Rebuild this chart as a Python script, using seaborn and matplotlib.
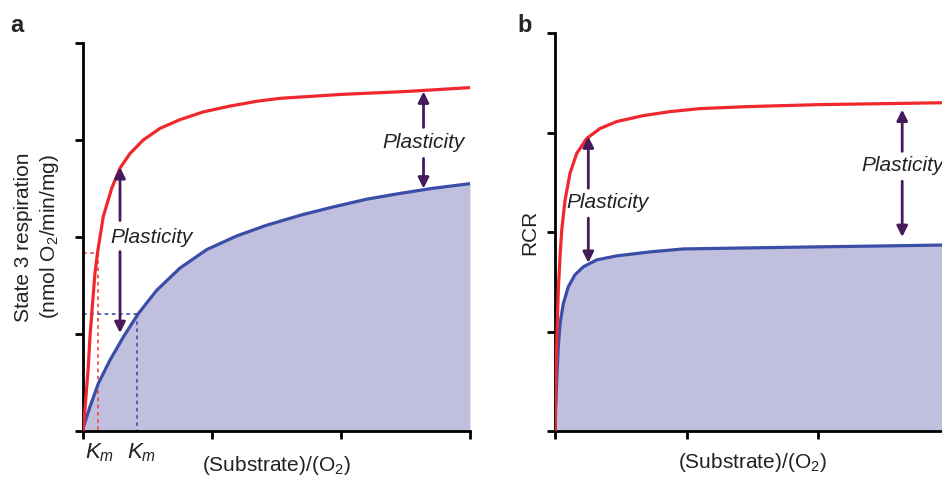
import numpy as np
import pandas as pd
import seaborn as sns
import matplotlib.pyplot as plt

# ---- values (x: tick units 0..3, y: tick units 0..4) ----
# panel a: state 3 respiration
a_red_x = [0, 0.003, 0.023, 0.041, 0.054, 0.072, 0.093, 0.114, 0.157, 0.222, 0.287, 0.364,
           0.467, 0.597, 0.752, 0.933, 1.14, 1.35, 1.53, 2.0, 2.5, 3.0]
a_red_y = [0, 0.04, 0.35, 0.66, 0.97, 1.28, 1.63, 1.85, 2.21, 2.5, 2.71, 2.86,
           3.0, 3.12, 3.21, 3.29, 3.35, 3.40, 3.43, 3.47, 3.50, 3.54]
a_blue_x = [0, 0.003, 0.054, 0.119, 0.209, 0.313, 0.429, 0.571, 0.752, 0.959, 1.19, 1.42,
            1.7, 1.94, 2.2, 2.46, 2.7, 3.0]
a_blue_y = [0, 0.04, 0.25, 0.49, 0.73, 0.97, 1.21, 1.45, 1.68, 1.87, 2.01, 2.12,
            2.23, 2.31, 2.39, 2.45, 2.50, 2.55]
a_km_red = (0.117, 1.84)
a_km_blue = (0.42, 1.21)
# arrows: x, top, upper-seg end, lower-seg start, bottom, text y, text x
a_arrows = [(0.287, 2.72, 2.17, 1.85, 1.01, 2.0, 0.53),
            (2.64, 3.50, 3.13, 2.81, 2.50, 2.97, 2.64)]

# panel b: RCR
b_red_x = [0, 0.006, 0.015, 0.025, 0.038, 0.051, 0.076, 0.114, 0.165, 0.241, 0.342, 0.469,
           0.672, 0.875, 1.10, 1.46, 2.0, 2.5, 3.0]
b_red_y = [0, 0.5, 1.0, 1.42, 1.75, 2.02, 2.32, 2.59, 2.79, 2.94, 3.04, 3.11,
           3.17, 3.21, 3.24, 3.26, 3.28, 3.29, 3.30]
b_blue_x = [0, 0.004, 0.013, 0.025, 0.038, 0.063, 0.101, 0.152, 0.215, 0.317, 0.469, 0.722,
            0.976, 1.46, 1.96, 2.5, 3.0]
b_blue_y = [0, 0.2, 0.51, 0.85, 1.08, 1.28, 1.45, 1.57, 1.65, 1.72, 1.76, 1.80,
            1.83, 1.84, 1.85, 1.86, 1.87]
b_arrows = [(0.253, 2.96, 2.44, 2.14, 1.69, 2.30, 0.40),
            (2.64, 3.23, 2.81, 2.51, 1.95, 2.67, 2.64)]

RED = "#f0282d"
BLUE = "#3a4ea8"
FILL = "#c1bfde"
ARROW = "#45195a"
TXT = "#222222"

sns.set_style("ticks")
plt.rcParams["font.family"] = ["Liberation Sans", "DejaVu Sans"]
plt.rcParams["mathtext.fontset"] = "custom"
plt.rcParams["mathtext.rm"] = "Liberation Sans"
plt.rcParams["mathtext.it"] = "Liberation Sans:italic"

fig = plt.figure(figsize=(9.42, 4.79), dpi=100)
ax_a = fig.add_axes([0.0881, 0.1002, 0.4108, 0.810])
ax_b = fig.add_axes([0.5892, 0.1002, 0.4188, 0.8309])


def draw_panel(ax, rx, ry, bx, by, arrows):
    df_r = pd.DataFrame({"x": rx, "y": ry})
    df_b = pd.DataFrame({"x": bx, "y": by})
    ax.fill_between(bx, 0, by, color=FILL, lw=0, zorder=1)
    sns.lineplot(data=df_b, x="x", y="y", ax=ax, color=BLUE, lw=2.3, zorder=3, sort=False)
    sns.lineplot(data=df_r, x="x", y="y", ax=ax, color=RED, lw=2.3, zorder=4, sort=False)
    for x, top, up_end, lo_start, bot, ty, tx in arrows:
        kw = dict(arrowstyle="-|>", color=ARROW, lw=2, mutation_scale=16,
                  shrinkA=0, shrinkB=0)
        ax.annotate("", xy=(x, top), xytext=(x, up_end), arrowprops=kw, zorder=5)
        ax.annotate("", xy=(x, bot), xytext=(x, lo_start), arrowprops=kw, zorder=5)
        ax.text(tx, ty, "Plasticity", style="italic", fontsize=15,
                ha="center", va="center", color=TXT, zorder=6)
    ax.set_xlim(0, 3)
    ax.set_ylim(0, 4)
    ax.set_xticks([0, 1, 2, 3])
    ax.set_yticks([0, 1, 2, 3, 4])
    ax.set_xticklabels([])
    ax.set_yticklabels([])
    ax.tick_params(length=6, width=2, direction="out", color="black")
    sns.despine(ax=ax)
    for s in ("left", "bottom"):
        ax.spines[s].set_linewidth(2)
        ax.spines[s].set_color("black")
    ax.set_xlabel("")
    ax.set_ylabel("")


draw_panel(ax_a, a_red_x, a_red_y, a_blue_x, a_blue_y, a_arrows)
draw_panel(ax_b, b_red_x, b_red_y, b_blue_x, b_blue_y, b_arrows)

# Km guide lines in panel a
for (kx, ky), c in ((a_km_red, "#f05050"), (a_km_blue, "#4a5ab0")):
    ax_a.plot([0, kx], [ky, ky], ls=(0, (2, 2)), color=c, lw=1.3, zorder=2)
    ax_a.plot([kx, kx], [ky, 0], ls=(0, (2, 2)), color=c, lw=1.3, zorder=2)

ax_a.text(0.13, -0.22, "$K_m$", fontsize=16, ha="center", va="center", color=TXT)
ax_a.text(0.45, -0.22, "$K_m$", fontsize=16, ha="center", va="center", color=TXT)

ax_a.set_xlabel("(Substrate)/(O$_\\mathregular{2}$)", fontsize=15, labelpad=7, color=TXT)
ax_a.set_ylabel("State 3 respiration\n(nmol O$_\\mathregular{2}$/min/mg)", fontsize=15,
                labelpad=6, color=TXT, linespacing=1.3)
ax_b.set_xlabel("(Substrate)/(O$_\\mathregular{2}$)", fontsize=15, labelpad=5, color=TXT)
ax_b.set_ylabel("RCR", fontsize=15, labelpad=2, color=TXT)

fig.text(10 / 942, 1 - 25 / 479, "a", fontsize=17, fontweight="bold", va="center")
fig.text(517 / 942, 1 - 25 / 479, "b", fontsize=17, fontweight="bold", va="center")

fig.savefig("out.png", dpi=100)
